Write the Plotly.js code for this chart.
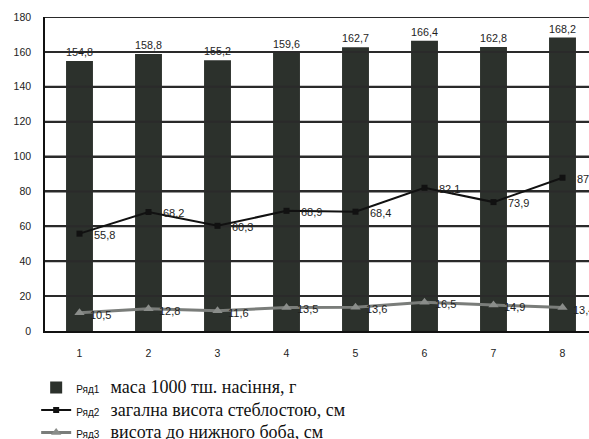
<!DOCTYPE html>
<html>
<head>
<meta charset="utf-8">
<script src="https://cdn.plot.ly/plotly-3.0.1.min.js"></script>
<style>
html,body{margin:0;padding:0;background:#fff;overflow:hidden;width:589px;height:439px;}
#chart{width:610px;height:439px;}
</style>
</head>
<body>
<div id="chart"></div>
<script>
var categories = ['1','2','3','4','5','6','7','8'];
var series1 = [154.8, 158.8, 155.2, 159.6, 162.7, 166.4, 162.8, 168.2];
var series2 = [55.8, 68.2, 60.3, 68.9, 68.4, 82.1, 73.9, 87.86];
var series3 = [10.5, 12.8, 11.6, 13.5, 13.6, 16.5, 14.9, 13.4];
var yTicks = [0, 20, 40, 60, 80, 100, 120, 140, 160, 180];
var seriesNames = ['Ряд1', 'Ряд2', 'Ряд3'];
var seriesDesc = ['маса 1000 тш. насіння, г', 'загална висота стеблостою, см', 'висота до нижного боба, см'];

var xPos = categories.map(function(c, i){ return i + 1; });
var xMin = 0.5, xMax = categories.length + 0.5;

function fmt(v){ return String(v).replace('.', ','); }
function legName(i){
  return '<span style="font-family:Liberation Sans;font-size:10px">' + seriesNames[i] + '</span>' +
         '\u00A0\u00A0\u00A0<span style="font-size:18px">' + seriesDesc[i] + '</span>';
}
var labelFont = {family: 'Liberation Sans', size: 11, color: '#1e1e1e'};

// horizontal grid lines, one line trace per y tick value
var traces = yTicks.filter(function(v){ return v > 0; }).map(function(v){
  return {type: 'scatter', mode: 'lines', x: [xMin, xMax], y: [v, v],
          line: {color: '#2a2a2a', width: 2}, showlegend: false, hoverinfo: 'skip', cliponaxis: false};
});

traces.push(
  {
    type: 'bar', x: xPos, y: series1, name: legName(0),
    marker: {color: '#2c312c'}, width: 0.39,
    text: series1.map(fmt), textposition: 'outside', cliponaxis: false,
    textfont: labelFont
  },
  {
    type: 'scatter', mode: 'lines+markers', x: xPos, y: series2, name: legName(1),
    line: {color: '#111', width: 2},
    marker: {symbol: 'square', size: 6, color: '#111'},
    cliponaxis: false
  },
  {
    type: 'scatter', mode: 'lines+markers', x: xPos, y: series3, name: legName(2),
    line: {color: '#7a7d7a', width: 3},
    marker: {symbol: 'triangle-up', size: 9, color: '#8a8d8a'},
    cliponaxis: false
  }
);

var annotations = [];
xPos.forEach(function(x, i){
  annotations.push({x: x, y: series2[i], xref: 'x', yref: 'y', text: fmt(series2[i]),
    showarrow: false, xanchor: 'left', yanchor: 'middle', xshift: 12, yshift: -1, font: labelFont});
  annotations.push({x: x, y: series3[i], xref: 'x', yref: 'y', text: fmt(series3[i]),
    showarrow: false, xanchor: 'left', yanchor: 'middle', xshift: 8, yshift: -2, font: labelFont});
});

var layout = {
  width: 610, height: 439,
  margin: {l: 45, r: 13, t: 17, b: 108, autoexpand: false},
  paper_bgcolor: '#ffffff', plot_bgcolor: '#ffffff',
  font: {family: 'Liberation Sans', size: 10, color: '#222'},
  showlegend: true,
  annotations: annotations,
  legend: {
    x: -0.016, y: -0.128, xanchor: 'left', yanchor: 'top',
    orientation: 'v', traceorder: 'normal',
    font: {family: 'Liberation Serif', size: 15, color: '#111'},
    bgcolor: 'rgba(0,0,0,0)', itemwidth: 30, tracegroupgap: 0
  },
  xaxis: {
    type: 'linear', range: [xMin, xMax],
    tickmode: 'array', tickvals: xPos, ticktext: categories,
    showgrid: false, zeroline: false, showline: true, linecolor: '#111', linewidth: 1.5,
    ticks: '', ticklabelstandoff: 12, automargin: false,
    tickfont: {family: 'Liberation Sans', size: 10.5, color: '#222'}
  },
  yaxis: {
    range: [0, 180], tickmode: 'array', tickvals: yTicks,
    showgrid: true, gridcolor: '#2a2a2a', gridwidth: 2,
    showline: true, linecolor: '#111', linewidth: 1.5,
    zeroline: false, ticks: '', ticklabelstandoff: 10, automargin: false,
    tickfont: {family: 'Liberation Sans', size: 10.5, color: '#222'}
  }
};

Plotly.newPlot('chart', traces, layout, {displayModeBar: false});
</script>
</body>
</html>
